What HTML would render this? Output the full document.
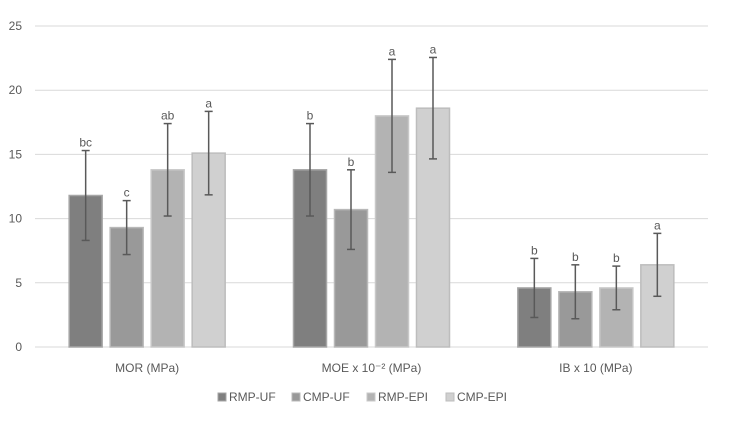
<!DOCTYPE html>
<html><head><meta charset="utf-8"><style>
body{margin:0;background:#fff;font-family:"Liberation Sans",sans-serif;}
svg text{font-family:"Liberation Sans",sans-serif;fill:#595959;}
</style></head><body>
<svg id="c" width="741" height="418"></svg>
<script>
const categories=["MOR (MPa)","MOE x 10\u207B\u00B2 (MPa)","IB x 10 (MPa)"];
const seriesNames=["RMP-UF","CMP-UF","RMP-EPI","CMP-EPI"];
const rmpUF=[11.8,13.8,4.6];
const cmpUF=[9.3,10.7,4.3];
const rmpEPI=[13.8,18.0,4.6];
const cmpEPI=[15.1,18.6,6.4];
const sdRmpUF=[3.5,3.6,2.3];
const sdCmpUF=[2.1,3.1,2.1];
const sdRmpEPI=[3.6,4.4,1.7];
const sdCmpEPI=[3.25,3.95,2.45];
const letRmpUF=["bc","b","b"];
const letCmpUF=["c","b","b"];
const letRmpEPI=["ab","a","b"];
const letCmpEPI=["a","a","a"];
const yTicks=[0,5,10,15,20,25];
const values=[rmpUF,cmpUF,rmpEPI,cmpEPI];
const sds=[sdRmpUF,sdCmpUF,sdRmpEPI,sdCmpEPI];
const lets=[letRmpUF,letCmpUF,letRmpEPI,letCmpEPI];
const fills=["#7f7f7f","#999999","#b3b3b3","#d0d0d0"];
const strokes=["#a6a6a6","#b8b8b8","#c8c8c8","#bdbdbd"];
const svg=document.getElementById('c');
const NS="http://www.w3.org/2000/svg";
const x0=35,x1=708,y0=347,y1=26;
const yS=v=>y0-(v/25)*(y0-y1);
const gw=(x1-x0)/categories.length;
const bw=33,step=41;
const xBar=(g,s)=>x0+gw*g+gw/2+(s-1.5)*step-bw/2;
function mk(t,a,p){const e=document.createElementNS(NS,t);for(const k in a)e.setAttribute(k,a[k]);(p||svg).appendChild(e);return e;}
yTicks.forEach(t=>{
 const l=mk('line',{x1:x0,x2:x1,y1:yS(t),y2:yS(t),stroke:'#d9d9d9','stroke-width':1});
 
 
 const tx=mk('text',{x:22,y:yS(t)+4,'font-size':12,'text-anchor':'end'});tx.textContent=t;
 
 
});
categories.forEach((c,g)=>{
 values.forEach((arr,s)=>{
  const v=arr[g],sd=sds[s][g],x=xBar(g,s),cx=x+bw/2;
  const r=mk('rect',{x:x,y:yS(v),width:bw,height:yS(0)-yS(v),fill:fills[s],stroke:strokes[s],'stroke-width':1.5});
  
  
  const col='#595959';
  mk('line',{x1:cx,x2:cx,y1:yS(v+sd),y2:yS(v-sd),stroke:col,'stroke-width':1.5});
  mk('line',{x1:cx-4,x2:cx+4,y1:yS(v+sd),y2:yS(v+sd),stroke:col,'stroke-width':1.5});
  mk('line',{x1:cx-4,x2:cx+4,y1:yS(v-sd),y2:yS(v-sd),stroke:col,'stroke-width':1.5});
  const lt=mk('text',{x:cx,y:yS(v+sd)-4,'font-size':12,'text-anchor':'middle'});lt.textContent=lets[s][g];
  
  
 });
 const ct=mk('text',{x:x0+gw*g+gw/2,y:372,'font-size':12,'text-anchor':'middle'});ct.textContent=c;
 
 
});
const lx=[218,292,367,446];
seriesNames.forEach((n,s)=>{
 const g=mk('g',{});
 
 
 mk('rect',{x:lx[s],y:393,width:8,height:8,fill:fills[s],stroke:strokes[s]},g);
 const t=mk('text',{x:lx[s]+11,y:401,'font-size':12},g);t.textContent=n;
});
</script>
</body></html>
